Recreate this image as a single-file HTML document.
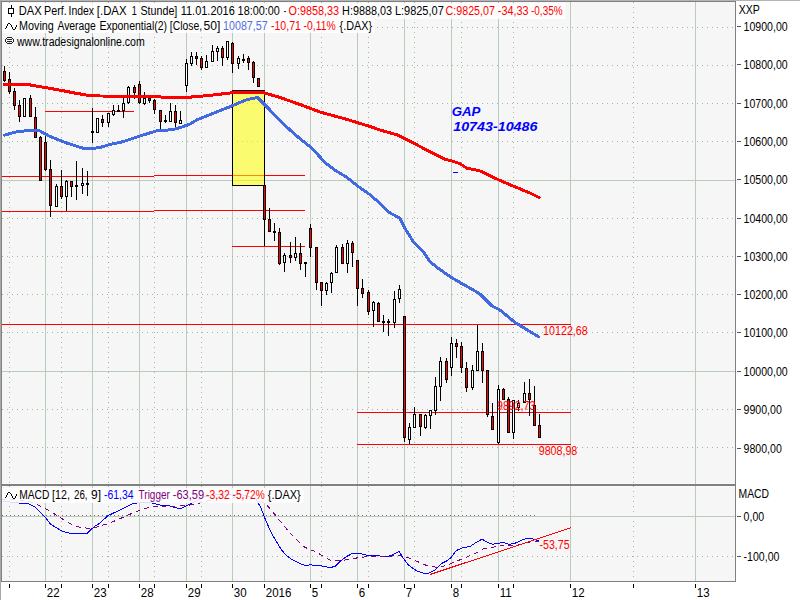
<!DOCTYPE html>
<html><head><meta charset="utf-8"><style>html,body{margin:0;padding:0;background:#fff;overflow:hidden}svg{display:block}</style></head>
<body><svg width="800" height="600" viewBox="0 0 800 600" shape-rendering="crispEdges"><rect x="0" y="0" width="800" height="600" fill="#ffffff"/>
<rect x="0" y="0" width="800" height="1" fill="#b4b4b4"/>
<rect x="0" y="0" width="1" height="600" fill="#a8a8a8"/>
<rect x="1" y="1" width="735" height="581" fill="#808080"/>
<rect x="2" y="2" width="733" height="481" fill="#f6f6f6"/>
<rect x="2" y="486" width="733" height="95" fill="#f6f6f6"/>
<rect x="2" y="483" width="733" height="1" fill="#fafafa"/>
<rect x="2" y="486" width="733" height="1" fill="#fafafa"/>
<rect x="45" y="2" width="1" height="482" fill="#b9cbb9"/>
<rect x="92" y="2" width="1" height="482" fill="#b9cbb9"/>
<rect x="139" y="2" width="1" height="482" fill="#b9cbb9"/>
<rect x="186" y="2" width="1" height="482" fill="#b9cbb9"/>
<rect x="232" y="2" width="1" height="482" fill="#b9cbb9"/>
<rect x="264" y="2" width="1" height="482" fill="#b9cbb9"/>
<rect x="310" y="2" width="1" height="482" fill="#b9cbb9"/>
<rect x="357" y="2" width="1" height="482" fill="#b9cbb9"/>
<rect x="404" y="2" width="1" height="482" fill="#b9cbb9"/>
<rect x="451" y="2" width="1" height="482" fill="#b9cbb9"/>
<rect x="498" y="2" width="1" height="482" fill="#b9cbb9"/>
<rect x="570" y="2" width="1" height="482" fill="#b9cbb9"/>
<rect x="695" y="2" width="1" height="482" fill="#b9cbb9"/>
<path d="M9.5,2V484M61.5,2V484M108.5,2V484M154.5,2V484M201.5,2V484M321.5,2V484M368.5,2V484M414.5,2V484M461.5,2V484M513.5,2V484M633.5,2V484" stroke="#9fb99f" stroke-width="1" stroke-dasharray="1,4" fill="none"/>
<rect x="45" y="486" width="1" height="95" fill="#b9cbb9"/>
<rect x="92" y="486" width="1" height="95" fill="#b9cbb9"/>
<rect x="139" y="486" width="1" height="95" fill="#b9cbb9"/>
<rect x="186" y="486" width="1" height="95" fill="#b9cbb9"/>
<rect x="232" y="486" width="1" height="95" fill="#b9cbb9"/>
<rect x="264" y="486" width="1" height="95" fill="#b9cbb9"/>
<rect x="310" y="486" width="1" height="95" fill="#b9cbb9"/>
<rect x="357" y="486" width="1" height="95" fill="#b9cbb9"/>
<rect x="404" y="486" width="1" height="95" fill="#b9cbb9"/>
<rect x="451" y="486" width="1" height="95" fill="#b9cbb9"/>
<rect x="498" y="486" width="1" height="95" fill="#b9cbb9"/>
<rect x="570" y="486" width="1" height="95" fill="#b9cbb9"/>
<rect x="695" y="486" width="1" height="95" fill="#b9cbb9"/>
<path d="M9.5,486V581M61.5,486V581M108.5,486V581M154.5,486V581M201.5,486V581M321.5,486V581M368.5,486V581M414.5,486V581M461.5,486V581M513.5,486V581M633.5,486V581" stroke="#9fb99f" stroke-width="1" stroke-dasharray="1,4" fill="none"/>
<path d="M2,27.5H735M2,65.5H735M2,103.5H735M2,141.5H735M2,218.5H735M2,256.5H735M2,294.5H735M2,332.5H735M2,409.5H735M2,447.5H735" stroke="#9fb99f" stroke-width="1" stroke-dasharray="1,4" fill="none"/>
<rect x="2" y="180" width="733" height="1" fill="#b9cbb9"/>
<rect x="2" y="371" width="733" height="1" fill="#b9cbb9"/>
<rect x="2" y="516" width="733" height="1" fill="#b9cbb9"/>
<path d="M2,515.5H537" stroke="#707070" stroke-width="1" stroke-dasharray="1,3" fill="none"/>
<path d="M2,556.5H735" stroke="#9fb99f" stroke-width="1" stroke-dasharray="1,4" fill="none"/>
<rect x="45" y="111" width="89" height="1" fill="#ff0000"/>
<rect x="2" y="176" width="152" height="1" fill="#ff0000"/>
<rect x="154" y="175" width="151" height="1" fill="#ff0000"/>
<rect x="2" y="211" width="152" height="1" fill="#ff0000"/>
<rect x="154" y="210" width="151" height="1" fill="#ff0000"/>
<rect x="232" y="246" width="73" height="1" fill="#ff0000"/>
<rect x="2" y="324" width="569" height="1" fill="#ff0000"/>
<rect x="357" y="412" width="214" height="1" fill="#ff0000"/>
<rect x="357" y="444" width="214" height="1" fill="#ff0000"/>
<rect x="232.5" y="90.5" width="32" height="95" fill="rgba(255,255,0,0.55)" stroke="#000" stroke-width="1"/>
<text x="543.11" y="335" fill="#ff0000" font-family='"Liberation Sans", sans-serif' font-size="12" textLength="44.64" lengthAdjust="spacingAndGlyphs">10122,68</text>
<text x="538.70" y="455" fill="#ff0000" font-family='"Liberation Sans", sans-serif' font-size="12" textLength="38.64" lengthAdjust="spacingAndGlyphs">9808,98</text>
<rect x="4" y="66" width="1" height="16" fill="#000"/>
<rect x="3" y="71" width="3" height="10" fill="#000"/>
<rect x="4" y="72" width="1" height="8" fill="#ff0000"/>
<rect x="9" y="72" width="1" height="22" fill="#000"/>
<rect x="8" y="79" width="3" height="13" fill="#000"/>
<rect x="9" y="80" width="1" height="11" fill="#ff0000"/>
<rect x="14" y="88" width="1" height="22" fill="#000"/>
<rect x="13" y="91" width="3" height="15" fill="#000"/>
<rect x="14" y="92" width="1" height="13" fill="#ff0000"/>
<rect x="19" y="100" width="1" height="22" fill="#000"/>
<rect x="18" y="105" width="3" height="12" fill="#000"/>
<rect x="19" y="106" width="1" height="10" fill="#ff0000"/>
<rect x="24" y="98" width="1" height="19" fill="#000"/>
<rect x="23" y="98" width="3" height="19" fill="#000"/>
<rect x="24" y="99" width="1" height="17" fill="#ffffff"/>
<rect x="30" y="95" width="1" height="22" fill="#000"/>
<rect x="29" y="98" width="3" height="19" fill="#000"/>
<rect x="30" y="99" width="1" height="17" fill="#ff0000"/>
<rect x="35" y="107" width="1" height="31" fill="#000"/>
<rect x="34" y="117" width="3" height="21" fill="#000"/>
<rect x="35" y="118" width="1" height="19" fill="#ff0000"/>
<rect x="40" y="136" width="1" height="45" fill="#000"/>
<rect x="39" y="137" width="3" height="44" fill="#000"/>
<rect x="40" y="138" width="1" height="42" fill="#ff0000"/>
<rect x="45" y="132" width="1" height="39" fill="#000"/>
<rect x="44" y="142" width="3" height="28" fill="#000"/>
<rect x="45" y="143" width="1" height="26" fill="#ff0000"/>
<rect x="50" y="160" width="1" height="57" fill="#000"/>
<rect x="49" y="169" width="3" height="37" fill="#000"/>
<rect x="50" y="170" width="1" height="35" fill="#ff0000"/>
<rect x="56" y="184" width="1" height="23" fill="#000"/>
<rect x="55" y="186" width="3" height="21" fill="#000"/>
<rect x="56" y="187" width="1" height="19" fill="#ffffff"/>
<rect x="61" y="170" width="1" height="29" fill="#000"/>
<rect x="60" y="186" width="3" height="11" fill="#000"/>
<rect x="61" y="187" width="1" height="9" fill="#ff0000"/>
<rect x="66" y="180" width="1" height="31" fill="#000"/>
<rect x="65" y="181" width="3" height="16" fill="#000"/>
<rect x="66" y="182" width="1" height="14" fill="#ffffff"/>
<rect x="71" y="181" width="1" height="16" fill="#000"/>
<rect x="70" y="181" width="3" height="6" fill="#000"/>
<rect x="71" y="182" width="1" height="4" fill="#ff0000"/>
<rect x="76" y="161" width="1" height="39" fill="#000"/>
<rect x="75" y="185" width="3" height="2" fill="#000"/>
<rect x="82" y="168" width="1" height="26" fill="#000"/>
<rect x="81" y="183" width="3" height="3" fill="#000"/>
<rect x="82" y="184" width="1" height="1" fill="#ffffff"/>
<rect x="87" y="171" width="1" height="25" fill="#000"/>
<rect x="86" y="183" width="3" height="2" fill="#000"/>
<rect x="92" y="108" width="1" height="35" fill="#000"/>
<rect x="91" y="131" width="3" height="2" fill="#000"/>
<rect x="97" y="118" width="1" height="15" fill="#000"/>
<rect x="96" y="118" width="3" height="15" fill="#000"/>
<rect x="97" y="119" width="1" height="13" fill="#ffffff"/>
<rect x="102" y="115" width="1" height="12" fill="#000"/>
<rect x="101" y="119" width="3" height="4" fill="#000"/>
<rect x="102" y="120" width="1" height="2" fill="#ff0000"/>
<rect x="108" y="113" width="1" height="14" fill="#000"/>
<rect x="107" y="113" width="3" height="10" fill="#000"/>
<rect x="108" y="114" width="1" height="8" fill="#ffffff"/>
<rect x="113" y="105" width="1" height="11" fill="#000"/>
<rect x="112" y="110" width="3" height="5" fill="#000"/>
<rect x="113" y="111" width="1" height="3" fill="#ffffff"/>
<rect x="118" y="105" width="1" height="7" fill="#000"/>
<rect x="117" y="110" width="3" height="2" fill="#000"/>
<rect x="123" y="98" width="1" height="20" fill="#000"/>
<rect x="122" y="103" width="3" height="8" fill="#000"/>
<rect x="123" y="104" width="1" height="6" fill="#ffffff"/>
<rect x="128" y="86" width="1" height="18" fill="#000"/>
<rect x="127" y="87" width="3" height="16" fill="#000"/>
<rect x="128" y="88" width="1" height="14" fill="#ffffff"/>
<rect x="134" y="85" width="1" height="14" fill="#000"/>
<rect x="133" y="87" width="3" height="6" fill="#000"/>
<rect x="134" y="88" width="1" height="4" fill="#ff0000"/>
<rect x="139" y="81" width="1" height="23" fill="#000"/>
<rect x="138" y="84" width="3" height="19" fill="#000"/>
<rect x="139" y="85" width="1" height="17" fill="#ff0000"/>
<rect x="144" y="92" width="1" height="13" fill="#000"/>
<rect x="143" y="98" width="3" height="6" fill="#000"/>
<rect x="144" y="99" width="1" height="4" fill="#ffffff"/>
<rect x="149" y="98" width="1" height="5" fill="#000"/>
<rect x="148" y="98" width="3" height="3" fill="#000"/>
<rect x="149" y="99" width="1" height="1" fill="#ff0000"/>
<rect x="154" y="99" width="1" height="15" fill="#000"/>
<rect x="153" y="100" width="3" height="10" fill="#000"/>
<rect x="154" y="101" width="1" height="8" fill="#ff0000"/>
<rect x="160" y="110" width="1" height="20" fill="#000"/>
<rect x="159" y="110" width="3" height="12" fill="#000"/>
<rect x="160" y="111" width="1" height="10" fill="#ff0000"/>
<rect x="165" y="115" width="1" height="8" fill="#000"/>
<rect x="164" y="120" width="3" height="2" fill="#000"/>
<rect x="170" y="103" width="1" height="19" fill="#000"/>
<rect x="169" y="111" width="3" height="11" fill="#000"/>
<rect x="170" y="112" width="1" height="9" fill="#ffffff"/>
<rect x="175" y="105" width="1" height="22" fill="#000"/>
<rect x="174" y="111" width="3" height="12" fill="#000"/>
<rect x="175" y="112" width="1" height="10" fill="#ff0000"/>
<rect x="180" y="111" width="1" height="13" fill="#000"/>
<rect x="179" y="120" width="3" height="4" fill="#000"/>
<rect x="180" y="121" width="1" height="2" fill="#ffffff"/>
<rect x="186" y="59" width="1" height="33" fill="#000"/>
<rect x="185" y="63" width="3" height="23" fill="#000"/>
<rect x="186" y="64" width="1" height="21" fill="#ffffff"/>
<rect x="191" y="52" width="1" height="14" fill="#000"/>
<rect x="190" y="56" width="3" height="8" fill="#000"/>
<rect x="191" y="57" width="1" height="6" fill="#ffffff"/>
<rect x="196" y="52" width="1" height="13" fill="#000"/>
<rect x="195" y="56" width="3" height="3" fill="#000"/>
<rect x="196" y="57" width="1" height="1" fill="#ff0000"/>
<rect x="201" y="56" width="1" height="14" fill="#000"/>
<rect x="200" y="58" width="3" height="10" fill="#000"/>
<rect x="201" y="59" width="1" height="8" fill="#ff0000"/>
<rect x="206" y="55" width="1" height="13" fill="#000"/>
<rect x="205" y="61" width="3" height="7" fill="#000"/>
<rect x="206" y="62" width="1" height="5" fill="#ffffff"/>
<rect x="212" y="45" width="1" height="17" fill="#000"/>
<rect x="211" y="51" width="3" height="11" fill="#000"/>
<rect x="212" y="52" width="1" height="9" fill="#ffffff"/>
<rect x="217" y="46" width="1" height="15" fill="#000"/>
<rect x="216" y="48" width="3" height="4" fill="#000"/>
<rect x="217" y="49" width="1" height="2" fill="#ffffff"/>
<rect x="222" y="46" width="1" height="20" fill="#000"/>
<rect x="221" y="48" width="3" height="10" fill="#000"/>
<rect x="222" y="49" width="1" height="8" fill="#ff0000"/>
<rect x="227" y="41" width="1" height="19" fill="#000"/>
<rect x="226" y="41" width="3" height="17" fill="#000"/>
<rect x="227" y="42" width="1" height="15" fill="#ffffff"/>
<rect x="232" y="42" width="1" height="31" fill="#000"/>
<rect x="231" y="43" width="3" height="21" fill="#000"/>
<rect x="232" y="44" width="1" height="19" fill="#ff0000"/>
<rect x="238" y="56" width="1" height="13" fill="#000"/>
<rect x="237" y="58" width="3" height="6" fill="#000"/>
<rect x="238" y="59" width="1" height="4" fill="#ffffff"/>
<rect x="243" y="54" width="1" height="9" fill="#000"/>
<rect x="242" y="59" width="3" height="2" fill="#000"/>
<rect x="248" y="56" width="1" height="14" fill="#000"/>
<rect x="247" y="58" width="3" height="5" fill="#000"/>
<rect x="248" y="59" width="1" height="3" fill="#ff0000"/>
<rect x="253" y="61" width="1" height="22" fill="#000"/>
<rect x="252" y="62" width="3" height="16" fill="#000"/>
<rect x="253" y="63" width="1" height="14" fill="#ff0000"/>
<rect x="258" y="78" width="1" height="9" fill="#000"/>
<rect x="257" y="78" width="3" height="9" fill="#000"/>
<rect x="258" y="79" width="1" height="7" fill="#ff0000"/>
<rect x="264" y="185" width="1" height="61" fill="#000"/>
<rect x="263" y="185" width="3" height="35" fill="#000"/>
<rect x="264" y="186" width="1" height="33" fill="#ff0000"/>
<rect x="269" y="208" width="1" height="24" fill="#000"/>
<rect x="268" y="219" width="3" height="13" fill="#000"/>
<rect x="269" y="220" width="1" height="11" fill="#ff0000"/>
<rect x="274" y="223" width="1" height="18" fill="#000"/>
<rect x="273" y="231" width="3" height="2" fill="#000"/>
<rect x="279" y="228" width="1" height="37" fill="#000"/>
<rect x="278" y="232" width="3" height="32" fill="#000"/>
<rect x="279" y="233" width="1" height="30" fill="#ff0000"/>
<rect x="284" y="253" width="1" height="19" fill="#000"/>
<rect x="283" y="255" width="3" height="8" fill="#000"/>
<rect x="284" y="256" width="1" height="6" fill="#ffffff"/>
<rect x="290" y="242" width="1" height="21" fill="#000"/>
<rect x="289" y="255" width="3" height="3" fill="#000"/>
<rect x="290" y="256" width="1" height="1" fill="#ff0000"/>
<rect x="295" y="237" width="1" height="24" fill="#000"/>
<rect x="294" y="253" width="3" height="5" fill="#000"/>
<rect x="295" y="254" width="1" height="3" fill="#ffffff"/>
<rect x="300" y="243" width="1" height="27" fill="#000"/>
<rect x="299" y="253" width="3" height="11" fill="#000"/>
<rect x="300" y="254" width="1" height="9" fill="#ff0000"/>
<rect x="305" y="262" width="1" height="15" fill="#000"/>
<rect x="304" y="262" width="3" height="2" fill="#000"/>
<rect x="310" y="224" width="1" height="33" fill="#000"/>
<rect x="309" y="228" width="3" height="20" fill="#000"/>
<rect x="310" y="229" width="1" height="18" fill="#ff0000"/>
<rect x="316" y="247" width="1" height="43" fill="#000"/>
<rect x="315" y="247" width="3" height="36" fill="#000"/>
<rect x="316" y="248" width="1" height="34" fill="#ff0000"/>
<rect x="321" y="282" width="1" height="24" fill="#000"/>
<rect x="320" y="282" width="3" height="9" fill="#000"/>
<rect x="321" y="283" width="1" height="7" fill="#ff0000"/>
<rect x="326" y="282" width="1" height="13" fill="#000"/>
<rect x="325" y="283" width="3" height="8" fill="#000"/>
<rect x="326" y="284" width="1" height="6" fill="#ffffff"/>
<rect x="331" y="272" width="1" height="21" fill="#000"/>
<rect x="330" y="273" width="3" height="10" fill="#000"/>
<rect x="331" y="274" width="1" height="8" fill="#ffffff"/>
<rect x="336" y="245" width="1" height="28" fill="#000"/>
<rect x="335" y="247" width="3" height="26" fill="#000"/>
<rect x="336" y="248" width="1" height="24" fill="#ffffff"/>
<rect x="342" y="244" width="1" height="20" fill="#000"/>
<rect x="341" y="247" width="3" height="17" fill="#000"/>
<rect x="342" y="248" width="1" height="15" fill="#ff0000"/>
<rect x="347" y="240" width="1" height="33" fill="#000"/>
<rect x="346" y="243" width="3" height="21" fill="#000"/>
<rect x="347" y="244" width="1" height="19" fill="#ffffff"/>
<rect x="352" y="241" width="1" height="26" fill="#000"/>
<rect x="351" y="243" width="3" height="10" fill="#000"/>
<rect x="352" y="244" width="1" height="8" fill="#ff0000"/>
<rect x="357" y="260" width="1" height="46" fill="#000"/>
<rect x="356" y="260" width="3" height="29" fill="#000"/>
<rect x="357" y="261" width="1" height="27" fill="#ff0000"/>
<rect x="362" y="279" width="1" height="19" fill="#000"/>
<rect x="361" y="288" width="3" height="6" fill="#000"/>
<rect x="362" y="289" width="1" height="4" fill="#ff0000"/>
<rect x="368" y="290" width="1" height="25" fill="#000"/>
<rect x="367" y="292" width="3" height="20" fill="#000"/>
<rect x="368" y="293" width="1" height="18" fill="#ff0000"/>
<rect x="373" y="301" width="1" height="26" fill="#000"/>
<rect x="372" y="302" width="3" height="9" fill="#000"/>
<rect x="373" y="303" width="1" height="7" fill="#ffffff"/>
<rect x="378" y="302" width="1" height="20" fill="#000"/>
<rect x="377" y="303" width="3" height="19" fill="#000"/>
<rect x="378" y="304" width="1" height="17" fill="#ff0000"/>
<rect x="383" y="315" width="1" height="17" fill="#000"/>
<rect x="382" y="321" width="3" height="2" fill="#000"/>
<rect x="388" y="319" width="1" height="17" fill="#000"/>
<rect x="387" y="321" width="3" height="2" fill="#000"/>
<rect x="394" y="291" width="1" height="37" fill="#000"/>
<rect x="393" y="299" width="3" height="24" fill="#000"/>
<rect x="394" y="300" width="1" height="22" fill="#ffffff"/>
<rect x="399" y="285" width="1" height="18" fill="#000"/>
<rect x="398" y="289" width="3" height="10" fill="#000"/>
<rect x="399" y="290" width="1" height="8" fill="#ffffff"/>
<rect x="404" y="316" width="1" height="126" fill="#000"/>
<rect x="403" y="316" width="3" height="122" fill="#000"/>
<rect x="404" y="317" width="1" height="120" fill="#ff0000"/>
<rect x="409" y="423" width="1" height="21" fill="#000"/>
<rect x="408" y="427" width="3" height="13" fill="#000"/>
<rect x="409" y="428" width="1" height="11" fill="#ffffff"/>
<rect x="414" y="407" width="1" height="21" fill="#000"/>
<rect x="413" y="414" width="3" height="14" fill="#000"/>
<rect x="414" y="415" width="1" height="12" fill="#ffffff"/>
<rect x="420" y="414" width="1" height="22" fill="#000"/>
<rect x="419" y="414" width="3" height="13" fill="#000"/>
<rect x="420" y="415" width="1" height="11" fill="#ff0000"/>
<rect x="425" y="414" width="1" height="15" fill="#000"/>
<rect x="424" y="415" width="3" height="13" fill="#000"/>
<rect x="425" y="416" width="1" height="11" fill="#ffffff"/>
<rect x="430" y="410" width="1" height="19" fill="#000"/>
<rect x="429" y="410" width="3" height="6" fill="#000"/>
<rect x="430" y="411" width="1" height="4" fill="#ffffff"/>
<rect x="435" y="377" width="1" height="38" fill="#000"/>
<rect x="434" y="386" width="3" height="25" fill="#000"/>
<rect x="435" y="387" width="1" height="23" fill="#ffffff"/>
<rect x="440" y="357" width="1" height="44" fill="#000"/>
<rect x="439" y="361" width="3" height="26" fill="#000"/>
<rect x="440" y="362" width="1" height="24" fill="#ffffff"/>
<rect x="446" y="358" width="1" height="25" fill="#000"/>
<rect x="445" y="361" width="3" height="19" fill="#000"/>
<rect x="446" y="362" width="1" height="17" fill="#ff0000"/>
<rect x="451" y="337" width="1" height="39" fill="#000"/>
<rect x="450" y="343" width="3" height="25" fill="#000"/>
<rect x="451" y="344" width="1" height="23" fill="#ffffff"/>
<rect x="456" y="339" width="1" height="19" fill="#000"/>
<rect x="455" y="343" width="3" height="4" fill="#000"/>
<rect x="456" y="344" width="1" height="2" fill="#ff0000"/>
<rect x="461" y="342" width="1" height="31" fill="#000"/>
<rect x="460" y="346" width="3" height="22" fill="#000"/>
<rect x="461" y="347" width="1" height="20" fill="#ff0000"/>
<rect x="466" y="362" width="1" height="30" fill="#000"/>
<rect x="465" y="368" width="3" height="20" fill="#000"/>
<rect x="466" y="369" width="1" height="18" fill="#ff0000"/>
<rect x="472" y="365" width="1" height="25" fill="#000"/>
<rect x="471" y="370" width="3" height="18" fill="#000"/>
<rect x="472" y="371" width="1" height="16" fill="#ffffff"/>
<rect x="477" y="325" width="1" height="46" fill="#000"/>
<rect x="476" y="351" width="3" height="20" fill="#000"/>
<rect x="477" y="352" width="1" height="18" fill="#ffffff"/>
<rect x="482" y="343" width="1" height="40" fill="#000"/>
<rect x="481" y="351" width="3" height="20" fill="#000"/>
<rect x="482" y="352" width="1" height="18" fill="#ff0000"/>
<rect x="487" y="370" width="1" height="47" fill="#000"/>
<rect x="486" y="370" width="3" height="45" fill="#000"/>
<rect x="487" y="371" width="1" height="43" fill="#ff0000"/>
<rect x="492" y="403" width="1" height="27" fill="#000"/>
<rect x="491" y="416" width="3" height="14" fill="#000"/>
<rect x="492" y="417" width="1" height="12" fill="#ff0000"/>
<rect x="498" y="385" width="1" height="59" fill="#000"/>
<rect x="497" y="389" width="3" height="54" fill="#000"/>
<rect x="498" y="390" width="1" height="52" fill="#ffffff"/>
<rect x="503" y="388" width="1" height="12" fill="#000"/>
<rect x="502" y="389" width="3" height="11" fill="#000"/>
<rect x="503" y="390" width="1" height="9" fill="#ff0000"/>
<rect x="508" y="397" width="1" height="36" fill="#000"/>
<rect x="507" y="399" width="3" height="34" fill="#000"/>
<rect x="508" y="400" width="1" height="32" fill="#ff0000"/>
<rect x="513" y="400" width="1" height="39" fill="#000"/>
<rect x="512" y="400" width="3" height="33" fill="#000"/>
<rect x="513" y="401" width="1" height="31" fill="#ffffff"/>
<rect x="518" y="400" width="1" height="11" fill="#000"/>
<rect x="517" y="403" width="3" height="5" fill="#000"/>
<rect x="518" y="404" width="1" height="3" fill="#ffffff"/>
<rect x="524" y="382" width="1" height="21" fill="#000"/>
<rect x="523" y="393" width="3" height="10" fill="#000"/>
<rect x="524" y="394" width="1" height="8" fill="#ffffff"/>
<rect x="529" y="379" width="1" height="37" fill="#000"/>
<rect x="528" y="393" width="3" height="7" fill="#000"/>
<rect x="529" y="394" width="1" height="5" fill="#ff0000"/>
<rect x="534" y="386" width="1" height="40" fill="#000"/>
<rect x="533" y="405" width="3" height="21" fill="#000"/>
<rect x="534" y="406" width="1" height="19" fill="#ff0000"/>
<rect x="539" y="414" width="1" height="24" fill="#000"/>
<rect x="538" y="425" width="3" height="13" fill="#000"/>
<rect x="539" y="426" width="1" height="11" fill="#ff0000"/>
<polyline points="4.5,84.5 27,84.4 37.5,86.2 46,87.7 62.5,90.6 75,93.1 87.5,95.2 100,96 155,96.3 163,97.3 185,97.4 196.7,96.7 213,95 230,93 262,92.3 280,97.5 300,104.5 320,112 349,120 367.7,125.8 381.7,130.5 398,135.2 407.3,139.8 420,146.5 430,151.75 445,159.25 451,160.75 460,163.75 467,168.25 475,169.75 481,171.25 490,175.75 498,179.5 510,184.75 530,193 539,197.5" fill="none" stroke="#ff0000" stroke-width="3.0" stroke-linejoin="round" stroke-linecap="round" shape-rendering="crispEdges"/>
<polyline points="4.5,135.2 15,132.2 31.7,130 40,131 50,136.5 66.7,143 83.3,148.3 92,148.5 100,147.5 110,144.5 123,141.7 140,136 156,131 165,130.5 175,129 182,127 190,124 196.7,120 213.3,113.3 230,106.7 246.7,99.7 257.5,97.5 266.7,106.7 280,120.5 290,130 300,138.7 311.7,148 325.7,163.2 335,170.2 346.7,177.2 358.3,186.5 370,194.7 379.3,202.8 388.7,212.2 400,218.3 405,228.3 413.3,241.7 423.3,251.7 430,261.7 438.3,268.3 450,276.7 460,282.5 475,291 480,294 492,306 500,310 515,322.5 539,337" fill="none" stroke="#4169e1" stroke-width="3.0" stroke-linejoin="round" stroke-linecap="round" shape-rendering="crispEdges"/>
<rect x="453" y="172" width="5" height="1" fill="#0000ff"/>
<g shape-rendering="geometricPrecision">
<polyline points="2,501 16.9,502.8 28,503.7 35.6,507.4 45,516.8 50.6,524.3 62,531 69.4,533.2 87.2,533.2 93.8,527 100,523 108,515.6 120,510 132,504 140,502.4 152,503 160,505 170,506 180,509 188,505 196,501 204,497 220,494 240,494 256,499 258,502.7 260.7,507.3 264,516 267.3,524 271.3,532.7 276.7,542 280.7,548.7 286,555.3 292.7,560 299.3,563.3 306,565.7 310,564.7 315,565.4 320,565.6 330,567.5 335,566.5 340,561.3 345.5,557.2 352.4,553.3 359.3,553.3 366.1,555.1 375.8,555.4 384,556.5 390.9,555.8 399.1,551.3 404,559.3 408.8,565.4 417,571 423.9,573.4 428,573.4 434.9,570.3 441.8,563.4 447.3,560.6 451,557.5 456.5,550.4 462,548.1 470.3,546.3 475.8,542.6 482,539.2 487.5,542.2 492.3,544.3 497.8,543.3 503.3,542.6 508.8,544.3 515,543.3 523.2,539.4 528,538.5 532.2,538.8 535,539.9 539,540.4" fill="none" stroke="#0000ff" stroke-width="1.0" stroke-linejoin="round" stroke-linecap="round" shape-rendering="crispEdges"/>
<polyline points="2,499 20,500 33.8,502.8 45,508.4 56.3,515 69.4,523.4 80.7,527.5 92,528.6 100,526 110,523 126,516 136,511.6 148,507.6 158,506 176,506 186,505.6 194,504.4 202,502.4 215,499 240,497.5 256,499 261,501.8 264.7,502.7 270,508.7 276.7,516.7 283.3,525.3 290,532.7 296.7,540 304.7,547.3 315,551.5 330,560 341,560.6 349,559.3 359.5,557.5 369.5,556.5 379,556.5 389.5,556.2 399,555.4 409,557.9 418.4,562 427.2,565.7 437.6,567.5 447.6,565 466,557.3 474.4,553.9 483.3,549 493.6,547 503,545.4 515,545.6 524,543.5 533,541.2 539,541.4" fill="none" stroke="#800080" stroke-width="1.0" stroke-linejoin="round" stroke-linecap="round" stroke-dasharray="4,5" stroke-linecap="butt" shape-rendering="crispEdges"/>
<line x1="430" y1="574.5" x2="570.75" y2="527.75" stroke="#ff0000" stroke-width="1" shape-rendering="crispEdges"/>
</g>
<rect x="2" y="3" width="563" height="16" fill="rgba(255,255,255,0.86)"/>
<rect x="2" y="19" width="373" height="14" fill="rgba(255,255,255,0.86)"/>
<rect x="2" y="488" width="302" height="15" fill="rgba(255,255,255,0.86)"/>
<text x="18.77" y="15" fill="#000" font-family='"Liberation Sans", sans-serif' font-size="12" textLength="22.85" lengthAdjust="spacingAndGlyphs">DAX</text>
<text x="44.10" y="15" fill="#000" font-family='"Liberation Sans", sans-serif' font-size="12" textLength="22.70" lengthAdjust="spacingAndGlyphs">Perf.</text>
<text x="68.53" y="15" fill="#000" font-family='"Liberation Sans", sans-serif' font-size="12" textLength="25.53" lengthAdjust="spacingAndGlyphs">Index</text>
<text x="96.80" y="15" fill="#000" font-family='"Liberation Sans", sans-serif' font-size="12" textLength="29.77" lengthAdjust="spacingAndGlyphs">[.DAX</text>
<text x="131.74" y="15" fill="#000" font-family='"Liberation Sans", sans-serif' font-size="12" textLength="5.07" lengthAdjust="spacingAndGlyphs">1</text>
<text x="140.41" y="15" fill="#000" font-family='"Liberation Sans", sans-serif' font-size="12" textLength="36.92" lengthAdjust="spacingAndGlyphs">Stunde]</text>
<text x="180.68" y="15" fill="#000" font-family='"Liberation Sans", sans-serif' font-size="12" textLength="54.17" lengthAdjust="spacingAndGlyphs">11.01.2016</text>
<text x="237.60" y="15" fill="#000" font-family='"Liberation Sans", sans-serif' font-size="12" textLength="42.25" lengthAdjust="spacingAndGlyphs">18:00:00</text>
<text x="283.70" y="15" fill="#000" font-family='"Liberation Sans", sans-serif' font-size="12" textLength="2.50" lengthAdjust="spacingAndGlyphs">-</text>
<text x="288.50" y="15" fill="#ff0000" font-family='"Liberation Sans", sans-serif' font-size="12" textLength="50.64" lengthAdjust="spacingAndGlyphs">O:9858,33</text>
<text x="342.10" y="15" fill="#000" font-family='"Liberation Sans", sans-serif' font-size="12" textLength="49.94" lengthAdjust="spacingAndGlyphs">H:9888,03</text>
<text x="394.88" y="15" fill="#000" font-family='"Liberation Sans", sans-serif' font-size="12" textLength="48.87" lengthAdjust="spacingAndGlyphs">L:9825,07</text>
<text x="445.60" y="15" fill="#ff0000" font-family='"Liberation Sans", sans-serif' font-size="12" textLength="49.34" lengthAdjust="spacingAndGlyphs">C:9825,07</text>
<text x="497.80" y="15" fill="#ff0000" font-family='"Liberation Sans", sans-serif' font-size="12" textLength="30.73" lengthAdjust="spacingAndGlyphs">-34,33</text>
<text x="531.00" y="15" fill="#ff0000" font-family='"Liberation Sans", sans-serif' font-size="12" textLength="31.62" lengthAdjust="spacingAndGlyphs">-0,35%</text>
<text x="19.10" y="30" fill="#000" font-family='"Liberation Sans", sans-serif' font-size="12" textLength="34.71" lengthAdjust="spacingAndGlyphs">Moving</text>
<text x="57.40" y="30" fill="#000" font-family='"Liberation Sans", sans-serif' font-size="12" textLength="38.51" lengthAdjust="spacingAndGlyphs">Average</text>
<text x="99.42" y="30" fill="#000" font-family='"Liberation Sans", sans-serif' font-size="12" textLength="67.71" lengthAdjust="spacingAndGlyphs">Exponential(2)</text>
<text x="169.83" y="30" fill="#000" font-family='"Liberation Sans", sans-serif' font-size="12" textLength="32.33" lengthAdjust="spacingAndGlyphs">[Close,</text>
<text x="203.49" y="30" fill="#000" font-family='"Liberation Sans", sans-serif' font-size="12" textLength="16.90" lengthAdjust="spacingAndGlyphs">50]</text>
<text x="223.11" y="30" fill="#4f6fe0" font-family='"Liberation Sans", sans-serif' font-size="12" textLength="44.53" lengthAdjust="spacingAndGlyphs">10087,57</text>
<text x="271.00" y="30" fill="#ff0000" font-family='"Liberation Sans", sans-serif' font-size="12" textLength="29.90" lengthAdjust="spacingAndGlyphs">-10,71</text>
<text x="303.60" y="30" fill="#ff0000" font-family='"Liberation Sans", sans-serif' font-size="12" textLength="32.11" lengthAdjust="spacingAndGlyphs">-0,11%</text>
<text x="339.60" y="30" fill="#000" font-family='"Liberation Sans", sans-serif' font-size="12" textLength="32.42" lengthAdjust="spacingAndGlyphs">{.DAX}</text>
<text x="17.00" y="46" fill="#000" font-family='"Liberation Sans", sans-serif' font-size="12" textLength="127.76" lengthAdjust="spacingAndGlyphs">www.tradesignalonline.com</text>
<text x="19.15" y="499" fill="#000" font-family='"Liberation Sans", sans-serif' font-size="12" textLength="30.14" lengthAdjust="spacingAndGlyphs">MACD</text>
<text x="52.11" y="499" fill="#000" font-family='"Liberation Sans", sans-serif' font-size="12" textLength="17.79" lengthAdjust="spacingAndGlyphs">[12,</text>
<text x="74.00" y="499" fill="#000" font-family='"Liberation Sans", sans-serif' font-size="12" textLength="13.55" lengthAdjust="spacingAndGlyphs">26,</text>
<text x="91.00" y="499" fill="#000" font-family='"Liberation Sans", sans-serif' font-size="12" textLength="10.01" lengthAdjust="spacingAndGlyphs">9]</text>
<text x="104.00" y="499" fill="#0000ff" font-family='"Liberation Sans", sans-serif' font-size="12" textLength="29.62" lengthAdjust="spacingAndGlyphs">-61,34</text>
<text x="138.60" y="499" fill="#800080" font-family='"Liberation Sans", sans-serif' font-size="12" textLength="31.27" lengthAdjust="spacingAndGlyphs">Trigger</text>
<text x="172.80" y="499" fill="#800080" font-family='"Liberation Sans", sans-serif' font-size="12" textLength="31.34" lengthAdjust="spacingAndGlyphs">-63,59</text>
<text x="206.10" y="499" fill="#ff0000" font-family='"Liberation Sans", sans-serif' font-size="12" textLength="23.70" lengthAdjust="spacingAndGlyphs">-3,32</text>
<text x="232.50" y="499" fill="#ff0000" font-family='"Liberation Sans", sans-serif' font-size="12" textLength="32.22" lengthAdjust="spacingAndGlyphs">-5,72%</text>
<text x="267.80" y="499" fill="#000" font-family='"Liberation Sans", sans-serif' font-size="12" textLength="32.92" lengthAdjust="spacingAndGlyphs">{.DAX}</text>
<text x="451.70" y="116" fill="#0000ff" font-family='"Liberation Sans", sans-serif' font-size="12" font-weight="bold" font-style="italic" textLength="28.71" lengthAdjust="spacingAndGlyphs">GAP</text>
<text x="453.20" y="131" fill="#0000ff" font-family='"Liberation Sans", sans-serif' font-size="12" font-weight="bold" font-style="italic" textLength="84.28" lengthAdjust="spacingAndGlyphs">10743-10486</text>
<text x="497.00" y="410" fill="#ff0000" font-family='"Liberation Sans", sans-serif' font-size="12" textLength="38.33" lengthAdjust="spacingAndGlyphs">9892,73</text>
<text x="539.50" y="549" fill="#ff0000" font-family='"Liberation Sans", sans-serif' font-size="12" textLength="30.16" lengthAdjust="spacingAndGlyphs">-53,75</text>
<text x="738.75" y="14" fill="#000" font-family='"Liberation Sans", sans-serif' font-size="12" textLength="21.14" lengthAdjust="spacingAndGlyphs">XXP</text>
<text x="738.54" y="498" fill="#000" font-family='"Liberation Sans", sans-serif' font-size="12" textLength="30.55" lengthAdjust="spacingAndGlyphs">MACD</text>
<rect x="737" y="26" width="4" height="1" fill="#555"/>
<text x="743.60" y="31" fill="#000" font-family='"Liberation Sans", sans-serif' font-size="12" textLength="44.04" lengthAdjust="spacingAndGlyphs">10900,00</text>
<rect x="737" y="64" width="4" height="1" fill="#555"/>
<text x="743.60" y="69" fill="#000" font-family='"Liberation Sans", sans-serif' font-size="12" textLength="44.04" lengthAdjust="spacingAndGlyphs">10800,00</text>
<rect x="737" y="103" width="4" height="1" fill="#555"/>
<text x="743.60" y="108" fill="#000" font-family='"Liberation Sans", sans-serif' font-size="12" textLength="44.04" lengthAdjust="spacingAndGlyphs">10700,00</text>
<rect x="737" y="141" width="4" height="1" fill="#555"/>
<text x="743.60" y="146" fill="#000" font-family='"Liberation Sans", sans-serif' font-size="12" textLength="44.04" lengthAdjust="spacingAndGlyphs">10600,00</text>
<rect x="737" y="179" width="4" height="1" fill="#555"/>
<text x="743.60" y="184" fill="#000" font-family='"Liberation Sans", sans-serif' font-size="12" textLength="44.04" lengthAdjust="spacingAndGlyphs">10500,00</text>
<rect x="737" y="218" width="4" height="1" fill="#555"/>
<text x="743.60" y="223" fill="#000" font-family='"Liberation Sans", sans-serif' font-size="12" textLength="44.04" lengthAdjust="spacingAndGlyphs">10400,00</text>
<rect x="737" y="256" width="4" height="1" fill="#555"/>
<text x="743.60" y="261" fill="#000" font-family='"Liberation Sans", sans-serif' font-size="12" textLength="44.04" lengthAdjust="spacingAndGlyphs">10300,00</text>
<rect x="737" y="294" width="4" height="1" fill="#555"/>
<text x="743.60" y="299" fill="#000" font-family='"Liberation Sans", sans-serif' font-size="12" textLength="44.04" lengthAdjust="spacingAndGlyphs">10200,00</text>
<rect x="737" y="332" width="4" height="1" fill="#555"/>
<text x="743.60" y="337" fill="#000" font-family='"Liberation Sans", sans-serif' font-size="12" textLength="44.04" lengthAdjust="spacingAndGlyphs">10100,00</text>
<rect x="737" y="371" width="4" height="1" fill="#555"/>
<text x="743.60" y="376" fill="#000" font-family='"Liberation Sans", sans-serif' font-size="12" textLength="44.04" lengthAdjust="spacingAndGlyphs">10000,00</text>
<rect x="737" y="409" width="4" height="1" fill="#555"/>
<text x="743.60" y="414" fill="#000" font-family='"Liberation Sans", sans-serif' font-size="12" textLength="38.17" lengthAdjust="spacingAndGlyphs">9900,00</text>
<rect x="737" y="448" width="4" height="1" fill="#555"/>
<text x="743.60" y="453" fill="#000" font-family='"Liberation Sans", sans-serif' font-size="12" textLength="38.17" lengthAdjust="spacingAndGlyphs">9800,00</text>
<rect x="737" y="516" width="4" height="1" fill="#555"/>
<text x="743.60" y="521" fill="#000" font-family='"Liberation Sans", sans-serif' font-size="12" textLength="20.55" lengthAdjust="spacingAndGlyphs">0,00</text>
<rect x="737" y="556" width="4" height="1" fill="#555"/>
<text x="743.60" y="561" fill="#000" font-family='"Liberation Sans", sans-serif' font-size="12" textLength="35.82" lengthAdjust="spacingAndGlyphs">-100,00</text>
<rect x="1" y="581" width="735" height="1" fill="#808080"/>
<rect x="45" y="584" width="1" height="4" fill="#000"/>
<rect x="92" y="584" width="1" height="4" fill="#000"/>
<rect x="139" y="584" width="1" height="4" fill="#000"/>
<rect x="186" y="584" width="1" height="4" fill="#000"/>
<rect x="232" y="584" width="1" height="4" fill="#000"/>
<rect x="264" y="584" width="1" height="4" fill="#000"/>
<rect x="310" y="584" width="1" height="4" fill="#000"/>
<rect x="357" y="584" width="1" height="4" fill="#000"/>
<rect x="404" y="584" width="1" height="4" fill="#000"/>
<rect x="451" y="584" width="1" height="4" fill="#000"/>
<rect x="498" y="584" width="1" height="4" fill="#000"/>
<rect x="570" y="584" width="1" height="4" fill="#000"/>
<rect x="695" y="584" width="1" height="4" fill="#000"/>
<rect x="9" y="584" width="1" height="4" fill="#000"/>
<rect x="61" y="584" width="1" height="4" fill="#000"/>
<rect x="108" y="584" width="1" height="4" fill="#000"/>
<rect x="154" y="584" width="1" height="4" fill="#000"/>
<rect x="201" y="584" width="1" height="4" fill="#000"/>
<rect x="321" y="584" width="1" height="4" fill="#000"/>
<rect x="368" y="584" width="1" height="4" fill="#000"/>
<rect x="414" y="584" width="1" height="4" fill="#000"/>
<rect x="461" y="584" width="1" height="4" fill="#000"/>
<rect x="513" y="584" width="1" height="4" fill="#000"/>
<rect x="633" y="584" width="1" height="4" fill="#000"/>
<text x="46.80" y="597" fill="#000" font-family='"Liberation Sans", sans-serif' font-size="12" textLength="12.81" lengthAdjust="spacingAndGlyphs">22</text>
<text x="93.80" y="597" fill="#000" font-family='"Liberation Sans", sans-serif' font-size="12" textLength="12.81" lengthAdjust="spacingAndGlyphs">23</text>
<text x="140.80" y="597" fill="#000" font-family='"Liberation Sans", sans-serif' font-size="12" textLength="12.81" lengthAdjust="spacingAndGlyphs">28</text>
<text x="187.80" y="597" fill="#000" font-family='"Liberation Sans", sans-serif' font-size="12" textLength="12.81" lengthAdjust="spacingAndGlyphs">29</text>
<text x="233.80" y="597" fill="#000" font-family='"Liberation Sans", sans-serif' font-size="12" textLength="12.81" lengthAdjust="spacingAndGlyphs">30</text>
<text x="265.80" y="597" fill="#000" font-family='"Liberation Sans", sans-serif' font-size="12" textLength="25.63" lengthAdjust="spacingAndGlyphs">2016</text>
<text x="311.80" y="597" fill="#000" font-family='"Liberation Sans", sans-serif' font-size="12" textLength="6.41" lengthAdjust="spacingAndGlyphs">5</text>
<text x="358.80" y="597" fill="#000" font-family='"Liberation Sans", sans-serif' font-size="12" textLength="6.41" lengthAdjust="spacingAndGlyphs">6</text>
<text x="405.80" y="597" fill="#000" font-family='"Liberation Sans", sans-serif' font-size="12" textLength="6.41" lengthAdjust="spacingAndGlyphs">7</text>
<text x="452.80" y="597" fill="#000" font-family='"Liberation Sans", sans-serif' font-size="12" textLength="6.41" lengthAdjust="spacingAndGlyphs">8</text>
<text x="499.80" y="597" fill="#000" font-family='"Liberation Sans", sans-serif' font-size="12" textLength="11.96" lengthAdjust="spacingAndGlyphs">11</text>
<text x="571.80" y="597" fill="#000" font-family='"Liberation Sans", sans-serif' font-size="12" textLength="12.81" lengthAdjust="spacingAndGlyphs">12</text>
<text x="696.80" y="597" fill="#000" font-family='"Liberation Sans", sans-serif' font-size="12" textLength="12.81" lengthAdjust="spacingAndGlyphs">13</text>
<rect x="11" y="5" width="1" height="3" fill="#000"/>
<rect x="8" y="8" width="6" height="6" fill="#000"/>
<rect x="9" y="9" width="4" height="4" fill="#fff"/>
<rect x="11" y="14" width="1" height="3" fill="#000"/>
<path d="M5,28h1v1h-1zM6,27h1v1h-1zM6,26h1v1h-1zM7,25h1v1h-1zM7,24h1v1h-1zM8,23h1v1h-1zM9,23h1v1h-1zM10,24h1v1h-1zM11,25h1v1h-1zM11,26h1v1h-1zM12,27h1v1h-1zM12,28h1v1h-1zM13,29h1v1h-1zM14,29h1v1h-1zM15,28h1v1h-1zM15,27h1v1h-1zM16,26h1v1h-1zM16,25h1v1h-1z" fill="#000"/>
<path d="M5,497h1v1h-1zM6,496h1v1h-1zM6,495h1v1h-1zM7,494h1v1h-1zM7,493h1v1h-1zM8,492h1v1h-1zM9,492h1v1h-1zM10,493h1v1h-1zM11,494h1v1h-1zM11,495h1v1h-1zM12,496h1v1h-1zM12,497h1v1h-1zM13,498h1v1h-1zM14,498h1v1h-1zM15,497h1v1h-1zM15,496h1v1h-1zM16,495h1v1h-1zM16,494h1v1h-1z" fill="#000"/>
<path d="M7,37h1v1h-1zM7,43h1v1h-1zM7,39h1v1h-1zM7,41h1v1h-1zM8,37h1v1h-1zM8,43h1v1h-1zM8,39h1v1h-1zM8,41h1v1h-1zM9,37h1v1h-1zM9,43h1v1h-1zM9,39h1v1h-1zM9,41h1v1h-1zM10,37h1v1h-1zM10,43h1v1h-1zM10,39h1v1h-1zM10,41h1v1h-1zM11,37h1v1h-1zM11,43h1v1h-1zM11,39h1v1h-1zM11,41h1v1h-1zM5,39h1v1h-1zM13,39h1v1h-1zM5,40h1v1h-1zM13,40h1v1h-1zM5,41h1v1h-1zM13,41h1v1h-1zM6,38h1v1h-1zM12,38h1v1h-1zM6,42h1v1h-1zM12,42h1v1h-1z" fill="#222"/>
<rect x="735" y="1" width="1" height="581" fill="#808080"/></svg></body></html>
